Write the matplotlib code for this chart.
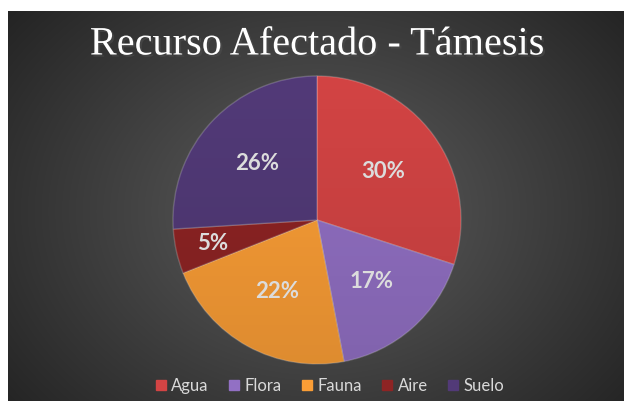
import numpy as np
import matplotlib.pyplot as plt
import matplotlib.patheffects as pe
from matplotlib.patches import Patch

plt.rcParams["font.family"] = ["Lato", "DejaVu Sans"]

categories = ["Agua", "Flora", "Fauna", "Aire", "Suelo"]
values = [30, 17, 22, 5, 26]
colors = ["#d34444", "#9270c4", "#fb9e36", "#8e2424", "#523a78"]
title = "Recurso Afectado - Támesis"

W, H = 624, 401
fig = plt.figure(figsize=(W / 100, H / 100), dpi=100)
fig.patch.set_facecolor("white")

# dark radial background
bg = fig.add_axes([8 / W, 0, (W - 8) / W, (H - 11) / H])
bg.set_axis_off()
yy, xx = np.mgrid[0:390, 0:616]
d = np.sqrt(((xx - 310) / 420.0) ** 2 + ((yy - 200) / 330.0) ** 2)
lev = np.clip(0.37 - 0.24 * d, 0.145, 0.37)
bg.imshow(np.dstack([lev, lev, lev]), aspect="auto", extent=[0, 1, 0, 1])
bg.set_xlim(0, 1)
bg.set_ylim(0, 1)

# pie
cx, cy, R = 317, H - 220, 144
ax = fig.add_axes([(cx - R - 6) / W, (cy - R - 6) / H, (2 * R + 12) / W, (2 * R + 12) / H])
ax.set_axis_off()
wedges, texts, pcts = ax.pie(
    values,
    colors=colors,
    startangle=90,
    counterclock=False,
    radius=1,
    autopct="%1.0f%%",
    pctdistance=0.57,
    wedgeprops=dict(edgecolor=(1, 1, 1, 0.2), linewidth=1.0),
    textprops=dict(color="#dcdcdc", fontsize=16, fontweight="bold"),
)
lim = (R + 6) / R
ax.set_xlim(-lim, lim)
ax.set_ylim(-lim, lim)
ax.set_aspect("equal")

# soft vertical shading on each slice
grad = np.zeros((200, 1, 4))
a = np.linspace(0, 1, 200)
grad[:, 0, 3] = 0.12 * a
for w in wedges:
    im = ax.imshow(grad, extent=[-1.05, 1.05, -1.05, 1.05], aspect="auto", zorder=w.get_zorder() + 0.1)
    im.set_clip_path(w)

# nudge the small slice label outward
for t, v in zip(pcts, values):
    x, y = t.get_position()
    if v < 8:
        t.set_position((x * 1.3, y * 1.3))
    t.set_zorder(5)

fig.text(cx / W, 1 - 45 / H, title, ha="center", va="center", fontsize=29,
         family=["Liberation Serif", "DejaVu Serif"], color="white",
         path_effects=[pe.withSimplePatchShadow(offset=(1.5, -1.5), alpha=0.6)])

handles = [Patch(facecolor=c, edgecolor=c) for c in colors]
leg = fig.legend(handles, categories, loc="center", bbox_to_anchor=(330 / W, 1 - 386 / H),
                 ncol=5, frameon=False, fontsize=12, handlelength=0.6, handleheight=0.6,
                 handletextpad=0.3, columnspacing=1.25, labelcolor="#d9d9d9")

fig.savefig("out.png", dpi=100)
